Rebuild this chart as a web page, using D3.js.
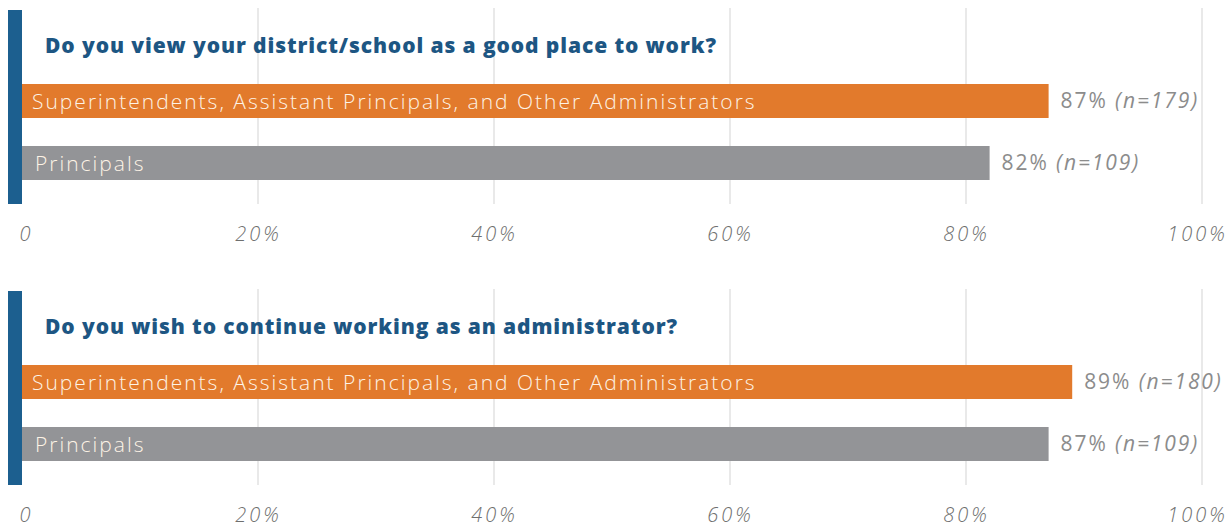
<!DOCTYPE html>
<html>
<head>
<meta charset="utf-8">
<script src="https://cdn.jsdelivr.net/npm/d3@7"></script>
<style>
  html, body { margin: 0; padding: 0; background: #ffffff; }
  svg { display: block; }
</style>
</head>
<body>
<svg id="chart" width="1230" height="527"></svg>
<script>
// Survey questions, one panel each
const questions = [
  "Do you view your district/school as a good place to work?",
  "Do you wish to continue working as an administrator?"
];
// Respondent groups (rows within each panel)
const groups = [
  "Superintendents, Assistant Principals, and Other Administrators",
  "Principals"
];
// Percent answering yes, per question, per group
const goodPlaceValues = [87, 82];
const continueValues = [89, 87];
// Sample sizes, per question, per group
const goodPlaceN = [179, 109];
const continueN = [180, 109];
// Axis ticks
const tickValues = [0, 20, 40, 60, 80, 100];
const tickLabels = ["0", "20%", "40%", "60%", "80%", "100%"];

const panels = [
  { title: questions[0], values: goodPlaceValues, n: goodPlaceN },
  { title: questions[1], values: continueValues, n: continueN }
];

const colors = ["#e27a2c", "#939497"];
const svg = d3.select("#chart");

const x = d3.scaleLinear().domain([0, 100]).range([22, 1202]);

// Panel layout: top of panel (blue rule top) and height
const panelTops = [10, 291];
const panelHeight = 194;
const barH = 34;
const rowY = [74, 136];

panels.forEach((p, i) => {
  const g = svg.append("g").attr("transform", `translate(0,${panelTops[i]})`);

  // Vertical gridlines
  g.selectAll("line.grid")
    .data(tickValues.slice(1))
    .join("line")
    .attr("class", "grid")
    .attr("x1", d => x(d)).attr("x2", d => x(d))
    .attr("y1", -2).attr("y2", panelHeight)
    .attr("stroke", "#d3d3d3")
    .attr("stroke-width", 1);

  // Blue accent rule on the left
  g.append("rect")
    .attr("x", 8).attr("y", 0)
    .attr("width", 14).attr("height", panelHeight)
    .attr("fill", "#1c5f8f");

  // Question title
  g.append("text")
    .attr("x", 45).attr("y", 43)
    .attr("font-family", "'Open Sans', sans-serif")
    .attr("font-weight", 800)
    .attr("font-size", 21)
    .attr("letter-spacing", 0.9)
    .attr("fill", "#1d5683")
    .text(p.title);

  // Bars
  g.selectAll("rect.bar")
    .data(p.values)
    .join("rect")
    .attr("class", "bar")
    .attr("x", x(0))
    .attr("y", (d, j) => rowY[j])
    .attr("width", d => x(d) - x(0))
    .attr("height", barH)
    .attr("fill", (d, j) => colors[j]);

  // Group labels inside bars
  g.selectAll("text.glabel")
    .data(groups)
    .join("text")
    .attr("class", "glabel")
    .attr("x", (d, j) => j === 0 ? 32 : 35)
    .attr("y", (d, j) => rowY[j] + barH / 2 + 8)
    .attr("font-family", "'Open Sans', sans-serif")
    .attr("font-weight", 300)
    .attr("font-size", 21)
    .attr("letter-spacing", 2)
    .attr("fill", "#fdf3e6")
    .text(d => d);

  // Value labels to the right of bars
  const vl = g.selectAll("text.vlabel")
    .data(p.values)
    .join("text")
    .attr("class", "vlabel")
    .attr("x", d => x(d) + 12)
    .attr("y", (d, j) => rowY[j] + barH / 2 + 7)
    .attr("font-family", "'Open Sans', sans-serif")
    .attr("font-weight", 400)
    .attr("font-size", 21)
    .attr("letter-spacing", 1.9)
    .attr("fill", "#8c8c8c");
  vl.append("tspan").text(d => d + "% ");
  vl.append("tspan")
    .attr("font-style", "italic")
    .text((d, j) => `(n=${p.n[j]})`);

  // Axis tick labels
  const axis = d3.axisBottom(x)
    .tickValues(tickValues)
    .tickFormat((d, k) => tickLabels[k])
    .tickSize(0)
    .tickPadding(0);
  const ag = g.append("g")
    .attr("transform", `translate(0,${panelHeight + 23})`)
    .call(axis);
  ag.select(".domain").remove();
  ag.selectAll("text")
    .attr("font-family", "'Open Sans', sans-serif")
    .attr("font-style", "italic")
    .attr("font-weight", 300)
    .attr("font-size", 20)
    .attr("letter-spacing", 3)
    .attr("fill", "#6f6f6f");
  ag.selectAll(".tick").filter(d => d === 0).select("text").attr("dx", 4);
  ag.selectAll(".tick").filter(d => d === 100).select("text").attr("dx", -5);
});
</script>
</body>
</html>
